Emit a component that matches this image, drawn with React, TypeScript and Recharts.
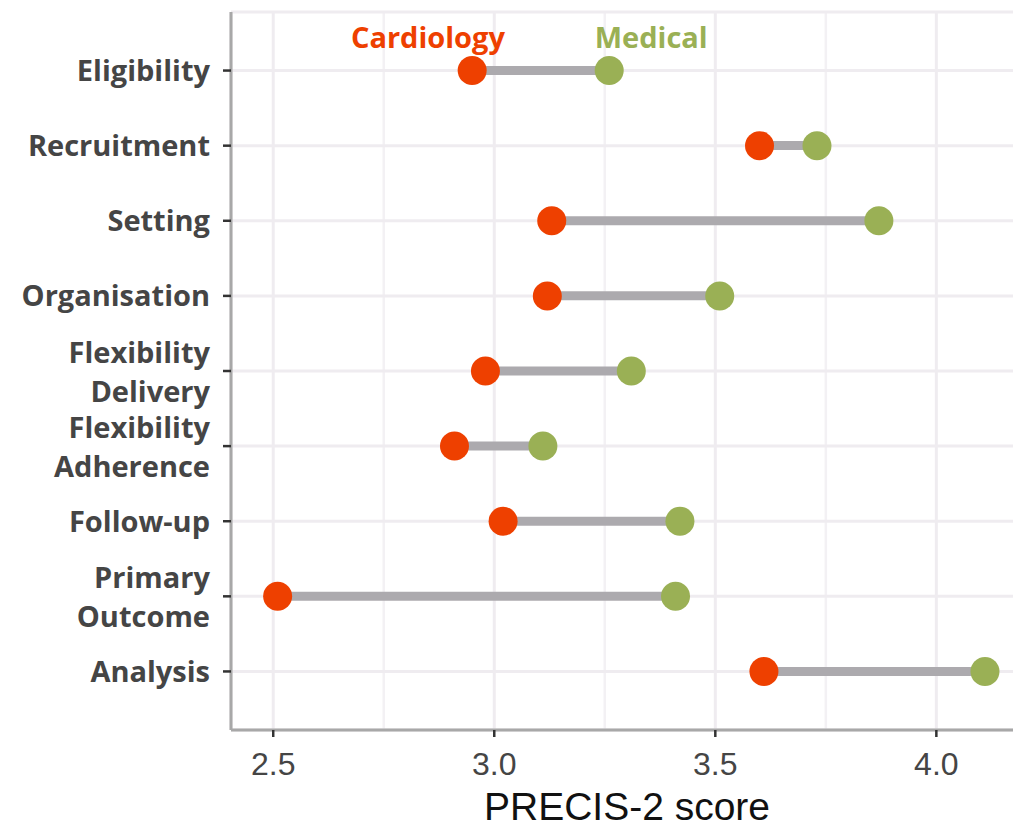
import React from 'react';
import {
  ComposedChart,
  Bar,
  Line,
  XAxis,
  YAxis,
  CartesianGrid,
  ReferenceDot,
} from 'recharts';

// PRECIS-2 domain scores, cardiology vs general medical trials
const categories = [
  'Eligibility',
  'Recruitment',
  'Setting',
  'Organisation',
  'Flexibility\nDelivery',
  'Flexibility\nAdherence',
  'Follow-up',
  'Primary\nOutcome',
  'Analysis',
];
const cardiology = [2.95, 3.6, 3.13, 3.12, 2.98, 2.91, 3.02, 2.51, 3.61];
const medical = [3.26, 3.73, 3.87, 3.51, 3.31, 3.11, 3.42, 3.41, 4.11];
const majorTicks = [2.5, 3.0, 3.5, 4.0];
const minorTicks = [2.75, 3.25, 3.75];
const xDomain: [number, number] = [2.4045, 4.196];

const RED = '#EE4000';
const GREEN = '#9AB055';
const TEXT = '#454545';
const BORDER = '#A8A8A8';

const data = categories.map((name, i) => ({
  name,
  cardiology: cardiology[i],
  medical: medical[i],
  range: [cardiology[i], medical[i]],
}));

const scaleOf = (axis: any) => {
  const s = axis && axis.scale;
  if (typeof s === 'function') return (v: number) => s(v);
  if (s && typeof s.map === 'function') return (v: number) => s.map(v);
  return null;
};

const minorGrid = ({ xAxis }: any) => {
  const f = scaleOf(xAxis);
  return f ? minorTicks.map((v) => f(v)) : [];
};

const CategoryTick = (props: any) => {
  const { x, y, payload } = props;
  const lines = String(payload.value).split('\n');
  const fontProps = {
    fontFamily: '"Open Sans", sans-serif',
    fontWeight: 700,
    fontSize: 29,
    fill: TEXT,
    textAnchor: 'end' as const,
  };
  if (lines.length === 1) {
    return (
      <text x={x} y={y + 10.5} {...fontProps}>
        {lines[0]}
      </text>
    );
  }
  return (
    <text x={x} y={y - 8} {...fontProps}>
      {lines.map((l, i) => (
        <tspan key={i} x={x} dy={i === 0 ? 0 : 39}>
          {l}
        </tspan>
      ))}
    </text>
  );
};

export default function App() {
  return (
    <div
      style={{
        position: 'absolute',
        left: 0,
        top: 0,
        width: 1013,
        height: 827,
        overflow: 'hidden',
        background: '#fff',
      }}
    >
      <ComposedChart
        width={1023}
        height={827}
        data={data}
        layout="vertical"
        margin={{ top: 12, right: 0, bottom: 0, left: 0 }}
      >
        <CartesianGrid
          horizontal={false}
          verticalCoordinatesGenerator={minorGrid}
          stroke="#F3F1F4"
          strokeWidth={2.5}
        />
        <CartesianGrid stroke="#EFECF0" strokeWidth={3} />
        <XAxis
          xAxisId="top"
          orientation="top"
          type="number"
          domain={xDomain}
          allowDataOverflow
          height={0}
          tick={false}
          tickLine={false}
          axisLine={{ stroke: BORDER, strokeWidth: 3 }}
        />
        <XAxis
          type="number"
          domain={xDomain}
          ticks={majorTicks}
          allowDataOverflow
          height={97}
          tickFormatter={(v: number) => v.toFixed(1)}
          tick={{ fontSize: 32, fill: TEXT, fontFamily: '"Liberation Sans", Arial, sans-serif' }}
          tickSize={7}
          tickMargin={15}
          tickLine={{ stroke: '#333', strokeWidth: 2.5 }}
          axisLine={{ stroke: BORDER, strokeWidth: 3 }}
          label={{
            value: 'PRECIS-2 score',
            position: 'insideBottom',
            offset: 7,
            fontSize: 39,
            fill: '#111',
            fontFamily: '"Liberation Sans", Arial, sans-serif',
          }}
        />
        <YAxis
          type="category"
          dataKey="name"
          width={231}
          padding={{ top: 21, bottom: 21 }}
          tick={<CategoryTick />}
          tickSize={8}
          tickMargin={13}
          tickLine={{ stroke: '#333', strokeWidth: 2.5 }}
          axisLine={{ stroke: BORDER, strokeWidth: 3 }}
          interval={0}
        />
        <Bar dataKey="range" barSize={9} fill="#ACAAAE" isAnimationActive={false} />
        <Line
          dataKey="medical"
          stroke="none"
          dot={{ r: 14.5, fill: GREEN, stroke: 'none' }}
          activeDot={false}
          isAnimationActive={false}
        />
        <Line
          dataKey="cardiology"
          stroke="none"
          dot={{ r: 14.5, fill: RED, stroke: 'none' }}
          activeDot={false}
          isAnimationActive={false}
        />
        <ReferenceDot
          x={2.85}
          y="Eligibility"
          r={0}
          fill="none"
          stroke="none"
          label={{
            value: 'Cardiology',
            position: 'top',
            offset: 23,
            fill: RED,
            fontSize: 29,
            fontWeight: 700,
            fontFamily: '"Open Sans", sans-serif',
          }}
        />
        <ReferenceDot
          x={3.355}
          y="Eligibility"
          r={0}
          fill="none"
          stroke="none"
          label={{
            value: 'Medical',
            position: 'top',
            offset: 23,
            fill: GREEN,
            fontSize: 29,
            fontWeight: 700,
            fontFamily: '"Open Sans", sans-serif',
          }}
        />
      </ComposedChart>
    </div>
  );
}
